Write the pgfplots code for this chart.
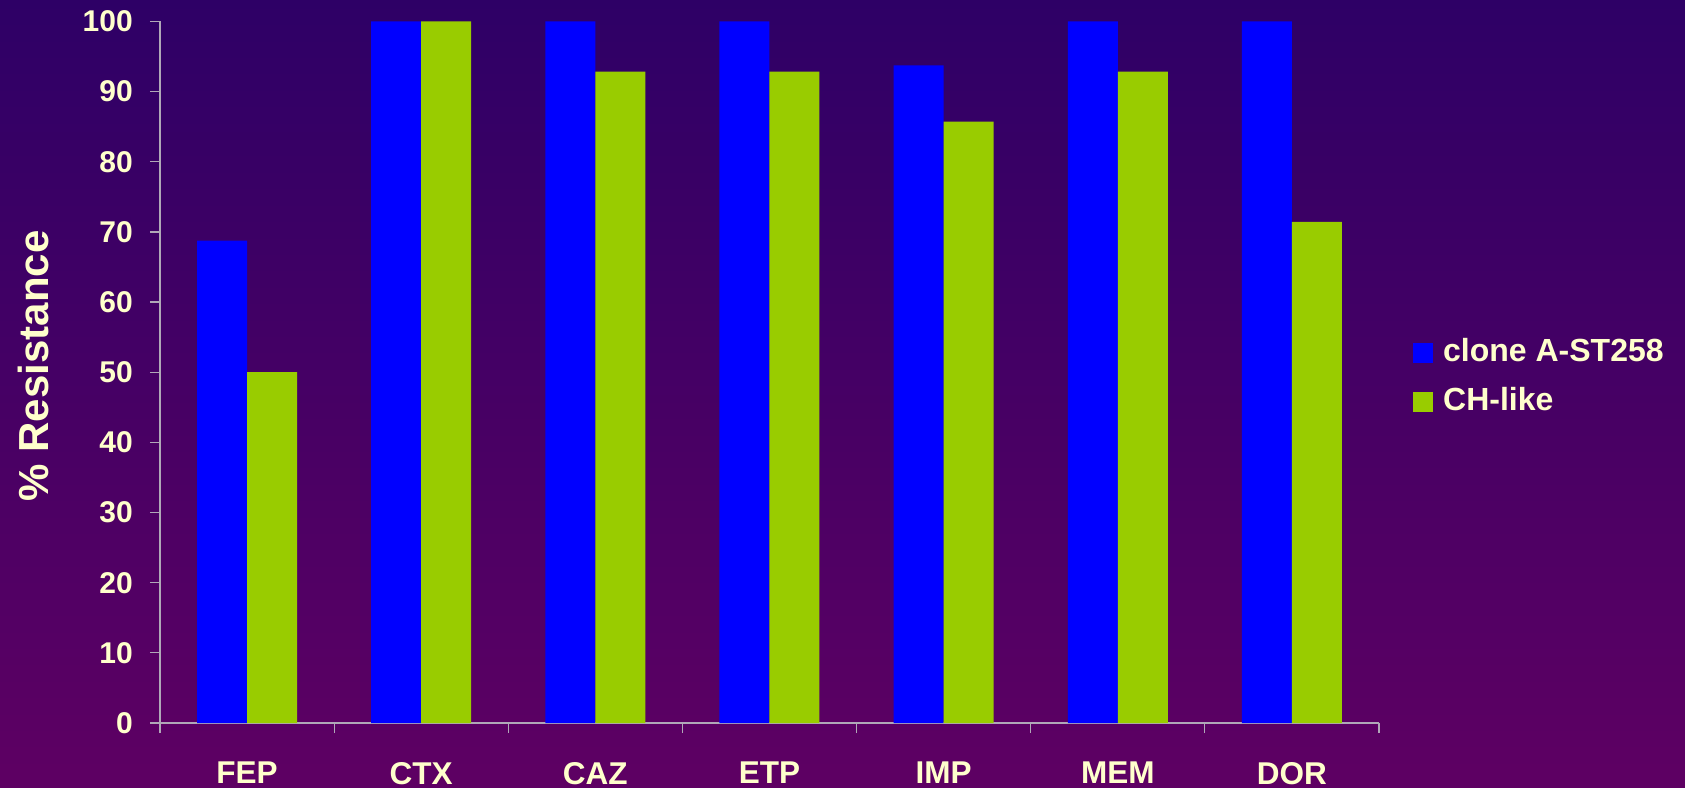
\documentclass[border=0pt]{standalone}
\usepackage{pgfplots}
\pgfplotsset{compat=1.18}
\usepackage{fontspec}
\setmainfont{Liberation Sans}

\definecolor{bgtop}{RGB}{46,0,102}
\definecolor{bgbot}{RGB}{94,0,99}
\definecolor{cream}{RGB}{255,255,204}
\definecolor{axisgray}{RGB}{176,168,184}
\definecolor{cloneblue}{RGB}{0,0,255}
\definecolor{chgreen}{RGB}{153,204,0}

\begin{document}
\begin{tikzpicture}
\useasboundingbox (-160bp,-65bp) rectangle (1525bp,723bp);
\shade[top color=bgtop, bottom color=bgbot] (-160bp,-65bp) rectangle (1525bp,723bp);
\begin{axis}[
  at={(0,0)}, anchor=south west,
  scale only axis, width=1219bp, height=701.5bp,
  ybar=0pt, bar width=50bp,
  xmin=-0.5, xmax=6.5, ymin=0, ymax=100,
  xtick={0,...,6},
  xticklabels={FEP,CTX,CAZ,ETP,IMP,MEM,DOR},
  minor xtick={-0.5,0.5,...,6.5},
  ytick={0,10,...,100},
  tick align=outside,
  major tick length=10bp, minor tick length=10bp,
  axis x line*=bottom, axis y line*=left,
  axis line style={draw=axisgray, line width=1.2bp},
  tick style={draw=axisgray, line width=1.2bp},
  major x tick style={draw=none},
  /pgf/number format/assume math mode=true,
  ticklabel style={font=\fontsize{30bp}{36bp}\selectfont\bfseries, text=cream},
  yticklabel style={anchor=east, inner sep=0pt, xshift=-17bp},
  xticklabel style={anchor=north, inner sep=0pt, yshift=-29bp,
    font=\fontsize{31.5bp}{38bp}\selectfont\bfseries},
  ylabel={\% Resistance},
  ylabel style={at={(axis description cs:-0.1034,0.509)}, anchor=center,
    font=\fontsize{42bp}{50bp}\selectfont\bfseries, text=cream},
  legend style={at={(axis description cs:1,0.496)}, anchor=west, xshift=34bp,
    draw=none, fill=none, text=cream,
    font=\fontsize{32bp}{38bp}\selectfont\bfseries,
    nodes={text height=23bp, text depth=0bp, inner xsep=10bp, inner ysep=0bp},
    row sep=24bp, inner sep=0pt},
  legend cell align=left,
]
\addplot[fill=cloneblue, draw=none,
  legend image code/.code={\fill[cloneblue] (0bp,-13.5bp) rectangle (20bp,6.5bp);}]
  coordinates {(0,68.75) (1,100) (2,100) (3,100) (4,93.75) (5,100) (6,100)};
\addplot[fill=chgreen, draw=none,
  legend image code/.code={\fill[chgreen] (0bp,-13.5bp) rectangle (20bp,6.5bp);}]
  coordinates {(0,50) (1,100) (2,92.86) (3,92.86) (4,85.71) (5,92.86) (6,71.43)};
\legend{clone A-ST258, CH-like}
\end{axis}
\end{tikzpicture}
\end{document}
